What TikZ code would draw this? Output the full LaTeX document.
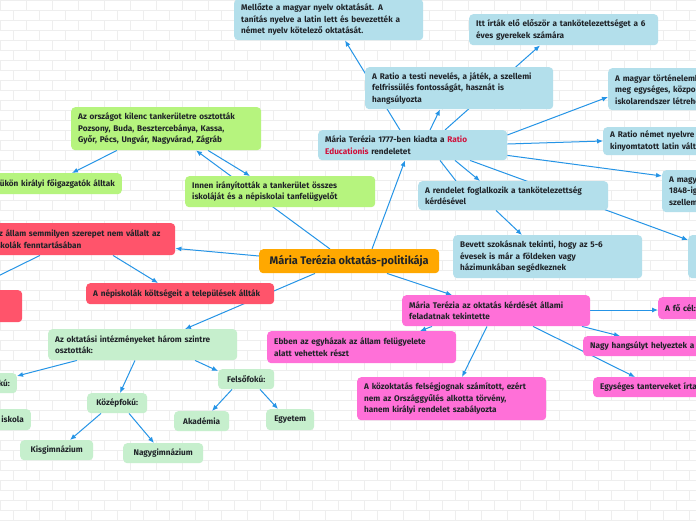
\documentclass[tikz,border=0pt]{standalone}
\usepackage{fontspec}
\setmainfont{Fira Sans}
\usetikzlibrary{arrows.meta}
\definecolor{ink}{HTML}{1F2328}
\definecolor{skyfill}{HTML}{B3DFEB}
\definecolor{limefill}{HTML}{B6F47E}
\definecolor{mintfill}{HTML}{C6EFCD}
\definecolor{redfill}{HTML}{FF546B}
\definecolor{pinkfill}{HTML}{FF70D8}
\definecolor{orangefill}{HTML}{FFA800}
\definecolor{linkblue}{HTML}{2594E6}
\definecolor{crimson}{HTML}{D0103A}
\definecolor{brick}{HTML}{EEEEEE}
\pgfdeclarelayer{bg}
\pgfdeclarelayer{links}
\pgfsetlayers{bg,links,main}
\tikzset{
  card/.style={rounded corners=4pt, anchor=north west, inner xsep=7pt, inner ysep=1pt,
    font=\fontsize{8.2}{11.5}\selectfont\bfseries, text=ink, align=left},
  wh/.code 2 args={\pgfmathsetmacro\cardtw{#1-14}%
    \edef\cardopts{minimum width=#1pt, minimum height=#2pt, text width=\cardtw pt}%
    \expandafter\tikzset\expandafter{\cardopts}},
  sky/.style={card, fill=skyfill},
  lime/.style={card, fill=limefill},
  mint/.style={card, fill=mintfill},
  redcard/.style={card, fill=redfill},
  pinkcard/.style={card, fill=pinkfill},
  link/.style={draw=linkblue, line width=1pt, -{Latex[length=6pt,width=5pt]}},
}
\begin{document}
\begin{tikzpicture}[x=1pt,y=-1pt]
  \useasboundingbox (0,0) rectangle (696,520);
  % brick wall background
  \begin{pgfonlayer}{bg}
    \fill[white] (0,0) rectangle (696,520);
    \foreach \r in {0,...,52}
      \draw[brick, line width=0.6pt] (0,\r*10) -- (696,\r*10);
    \foreach \r in {0,...,51}{
      \pgfmathsetmacro\off{mod(\r,2)*13}
      \foreach \c in {0,...,27}
        \draw[brick, line width=0.6pt] (\c*26+\off,\r*10) -- ++(0,10);}
  \end{pgfonlayer}

  % central topic
  \node[card, fill=orangefill, minimum width=180pt, minimum height=24pt, align=center,
    font=\fontsize{11}{12}\selectfont\bfseries] (main) at (259,249) {Mária Terézia oktatás-politikája};

  % Ratio Educationis branch
  \node[sky, wh={189}{30}] (ratio) at (318,130) {Mária Terézia 1777-ben kiadta a \textcolor{crimson}{Ratio}\\ \textcolor{crimson}{Educationis} rendeletet};
  \node[sky, wh={189}{41}] (mell) at (234,-1) {Mellőzte a magyar nyelv oktatását. A\\ tanítás nyelve a latin lett és bevezették a\\ német nyelv kötelező oktatását.};
  \node[sky, wh={189}{31}] (itt) at (469,14) {Itt írták elő először a tankötelezettséget a 6\\ éves gyerekek számára};
  \node[sky, wh={188}{42}] (testi) at (365,67) {A Ratio a testi nevelés, a játék, a szellemi\\ felfrissülés fontosságát, hasznát is\\ hangsúlyozta};
  \node[sky, wh={189}{42}] (tortenelem) at (608,68) {A magyar történelemben először alapozta\\ meg egységes, központi\\ iskolarendszer létrehozását};
  \node[sky, wh={189}{28}] (nemet) at (603,127) {A Ratio német nyelvre fordított és\\ kinyomtatott latin változata};
  \node[sky, wh={189}{42}] (negyvennyolc) at (662,170) {A magyar oktatásügyet\\ 1848-ig meghatározta\\ szellemisége};
  \node[sky, wh={190}{29}] (rendelet) at (418,181) {A rendelet foglalkozik a tankötelezettség\\ kérdésével};
  \node[sky, wh={189}{43}] (bevett) at (453,235) {Bevett szokásnak tekinti, hogy az 5-6\\ évesek is már a földeken vagy\\ házimunkában segédkeznek};
  \node[sky, wh={120}{43}] (jobbkek) at (688,235) {};

  % tankeruletek
  \node[lime, wh={190}{43}] (orszag) at (71,107) {Az országot kilenc tankerületre osztották\\ Pozsony, Buda, Besztercebánya, Kassa,\\ Győr, Pécs, Ungvár, Nagyvárad, Zágráb};
  \node[lime, wh={202}{21}, anchor=north east, align=right] (eluk) at (122,173) {Élükön királyi főigazgatók álltak};
  \node[lime, wh={190}{31}] (innen) at (185,176) {Innen irányították a tankerület összes\\ iskoláját és a népiskolai tanfelügyelőt};

  % fenntartas
  \node[redcard, wh={188}{32}] (allam) at (-13,223) {Az állam semmilyen szerepet nem vállalt az\\ iskolák fenntartásában};
  \node[redcard, wh={102}{32}] (balpiros) at (-80,290) {};
  \node[redcard, wh={188}{21}] (nepisk) at (86,283) {A népiskolák költségeit a települések állták};
  \coordinate (balra) at (-12,281);

  % intezmenyek
  \node[mint, wh={189}{31}] (szintek) at (48,329) {Az oktatási intézményeket három szintre\\ osztották:};
  \node[mint, wh={70}{20}, anchor=north east, align=right] (also) at (17,373) {Alsófokú:};
  \node[mint, wh={81}{21}, anchor=north east, align=right] (elemi) at (31,409) {Elemi iskola};
  \node[mint, wh={60}{20}, align=center] (kozep) at (87,393) {Középfokú:};
  \node[mint, wh={56}{20}, align=center] (felso) at (218,369) {Felsőfokú:};
  \node[mint, wh={73}{20}, align=center] (kisg) at (20,440) {Kisgimnázium};
  \node[mint, wh={80}{20}, align=center] (nagyg) at (123,443) {Nagygimnázium};
  \node[mint, wh={55}{20}, align=center] (akad) at (174,411) {Akadémia};
  \node[mint, wh={48}{21}, align=center] (egyet) at (266,409) {Egyetem};

  % allami feladat
  \node[pinkcard, wh={188}{31}] (allami) at (402,295) {Mária Terézia az oktatás kérdését állami\\ feladatnak tekintette};
  \node[pinkcard, wh={189}{32}] (egyhaz) at (267,331) {Ebben az egyházak az állam felügyelete\\ alatt vehettek részt};
  \node[pinkcard, wh={189}{43}] (felseg) at (357,377) {A közoktatás felségjognak számított, ezért\\ nem az Országgyűlés alkotta törvény,\\ hanem királyi rendelet szabályozta};
  \node[pinkcard, wh={160}{22}] (focel) at (658,297) {A fő cél: a hasznos alattvaló};
  \node[pinkcard, wh={200}{20}] (hangsuly) at (583,336) {Nagy hangsúlyt helyeztek a gyakorlatra};
  \node[pinkcard, wh={200}{20}] (tanterv) at (593,377) {Egységes tanterveket írtak elő};

  \begin{pgfonlayer}{links}
    \draw[link] ([xshift=113pt]main.north west) -- ([xshift=87pt]ratio.south west);
    \draw[link] ([xshift=71pt]main.north west) -- ([xshift=125pt]orszag.south west);
    \draw[link] ([yshift=-7pt]main.north west) -- ([yshift=7pt]allam.south east);
    \draw[link] ([xshift=56pt]main.south west) -- ([xshift=137pt]szintek.north west);
    \draw[link] ([xshift=128pt]main.south west) -- ([xshift=50pt]allami.north west);
    % Ratio
    \draw[link] ([xshift=82pt]ratio.north west) -- ([xshift=111pt]mell.south west);
    \draw[link] ([xshift=112pt]ratio.north west) -- ([xshift=75pt]testi.south west);
    \draw[link] ([xshift=127pt]ratio.north west) -- ([xshift=71pt]itt.south west);
    \draw[link] ([yshift=-5pt]ratio.north east) -- ([yshift=-29pt]tortenelem.north west);
    \draw[link] ([yshift=-14pt]ratio.north east) -- ([yshift=-14pt]nemet.north west);
    \draw[link] ([yshift=5pt]ratio.south east) -- ([yshift=-6pt]negyvennyolc.north west);
    \draw[linkblue, line width=1pt] ([xshift=122pt]ratio.south west) -- ([xshift=38pt]rendelet.north west);
    \draw[link] ([xshift=137pt]ratio.south west) -- ([xshift=62pt]rendelet.north west);
    \draw[link] ([xshift=152pt]ratio.south west) -- ([yshift=-5pt]jobbkek.north west);
    \draw[link] ([xshift=78pt]rendelet.south west) -- ([xshift=69pt]bevett.north west);
    % tankeruletek
    \draw[link] ([xshift=137pt]orszag.south west) -- ([xshift=65pt]innen.north west);
    \draw[link] ([xshift=46pt]orszag.south west) -- ([xshift=-50pt]eluk.north east);
    % fenntartas
    \draw[link] ([xshift=126pt]allam.south west) -- ([xshift=72pt]nepisk.north west);
    \draw[link] ([xshift=53pt]allam.south west) -- (balra);
    % intezmenyek
    \draw[link] ([xshift=29pt]szintek.south west) -- ([yshift=-3pt]also.north east);
    \draw[link] ([xshift=87pt]szintek.south west) -- ([xshift=33pt]kozep.north west);
    \draw[link] ([xshift=147pt]szintek.south west) -- ([yshift=-2pt]felso.north west);
    \draw[link] ([xshift=14pt]kozep.south west) -- ([xshift=50pt]kisg.north west);
    \draw[link] ([xshift=42pt]kozep.south west) -- ([xshift=31pt]nagyg.north west);
    \draw[link] ([xshift=14pt]felso.south west) -- ([xshift=38pt]akad.north west);
    \draw[link] ([xshift=42pt]felso.south west) -- ([xshift=12pt]egyet.north west);
    % allami feladat
    \draw[link] ([xshift=30pt]allami.south west) -- ([xshift=153pt]egyhaz.north west);
    \draw[link] ([xshift=85pt]allami.south west) -- ([xshift=105pt]felseg.north west);
    \draw[link] ([yshift=-15pt]allami.north east) -- ([yshift=-13pt]focel.north west);
    \draw[link] ([xshift=180pt]allami.south west) -- ([xshift=37pt]hangsuly.north west);
    \draw[link] ([xshift=131pt]allami.south west) -- ([xshift=42pt]tanterv.north west);
  \end{pgfonlayer}
\end{tikzpicture}
\end{document}
